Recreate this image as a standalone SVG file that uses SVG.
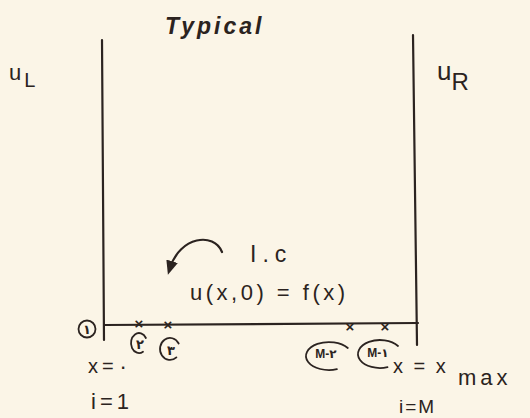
<svg xmlns="http://www.w3.org/2000/svg" width="530" height="418" viewBox="0 0 530 418">
<style>
.ink{stroke:#2b2320;fill:none;stroke-width:2.2;stroke-linecap:round}
.ring{stroke:#2b2320;fill:none;stroke-width:1.8;stroke-linecap:round}
.t{font-family:"Liberation Sans","DejaVu Sans",sans-serif;fill:#2b2320}
.x{font-family:"Liberation Sans",sans-serif;fill:#2b2320;font-size:15px;font-weight:bold;text-anchor:middle}
</style>
<defs>
<marker id="ah" markerWidth="14" markerHeight="12" refX="7" refY="6" orient="auto" markerUnits="userSpaceOnUse">
<path d="M0,0 L14,6 L0,12 Z" fill="#2b2320"/>
</marker>
</defs>
<rect width="530" height="418" fill="#fbf5e7"/>
<g id="domain">
<line class="ink" x1="102" y1="40" x2="104" y2="340"/>
<line class="ink" x1="413" y1="35" x2="417" y2="345"/>
<line class="ink" x1="104" y1="325" x2="418" y2="323"/>
<text class="t" x="165" y="34" font-size="23" font-style="italic" font-weight="bold" letter-spacing="3">Typical</text>
<text class="t" x="9" y="80" font-size="22">u<tspan font-size="20" dy="7" dx="3">L</tspan></text>
<text class="t" x="437" y="80" font-size="26">u<tspan font-size="24" dy="10">R</tspan></text>
</g>
<g id="nodes">
<g id="n1"><circle class="ring" cx="87" cy="329" r="8.5"/><text class="t" x="87" y="334" font-size="13" font-weight="bold" text-anchor="middle">۱</text></g>
<g id="n2"><text class="x" x="139" y="329">×</text><path class="ring" d="M145.9,338 A8,10 0 1 0 143,351.7"/><text class="t" x="140" y="349" font-size="13" font-weight="bold" text-anchor="middle">۲</text></g>
<g id="n3"><text class="x" x="168" y="330">×</text><path class="ring" d="M178.7,343.5 A10,11 0 1 0 176.4,357.4"/><text class="t" x="171" y="355" font-size="13" font-weight="bold" text-anchor="middle">۳</text></g>
<g id="nM2"><text class="x" x="350" y="332">×</text><path class="ring" d="M347.8,348 A23,14 0 1 0 336.9,369.2"/><text class="t" x="326" y="358" font-size="12" font-weight="bold" text-anchor="middle">M-۲</text></g>
<g id="nM1"><text class="x" x="385" y="332">×</text><path class="ring" d="M398,346 A22,14 0 1 0 387.5,367.2"/><text class="t" x="378" y="357" font-size="12" font-weight="bold" text-anchor="middle">M-۱</text></g>
</g>
<g id="labels">
<text class="t" x="88" y="373" font-size="20" letter-spacing="4">x=۰</text>
<text class="t" x="91" y="409" font-size="22" letter-spacing="4">i=1</text>
<text class="t" x="393" y="373" font-size="20" letter-spacing="2.5">x = x</text>
<text class="t" x="458" y="385" font-size="22" letter-spacing="4">max</text>
<text class="t" x="399" y="413" font-size="19" letter-spacing="2">i=M</text>
<text class="t" x="250" y="262" font-size="23" letter-spacing="6">I.c</text>
<text class="t" x="190" y="300" font-size="22" letter-spacing="3.5">u(x,0) = f(x)</text>
</g>
<g id="connectors">
<path class="ink" d="M222,252 C214,232 180,236 170,268" marker-end="url(#ah)"/>
</g>
</svg>
